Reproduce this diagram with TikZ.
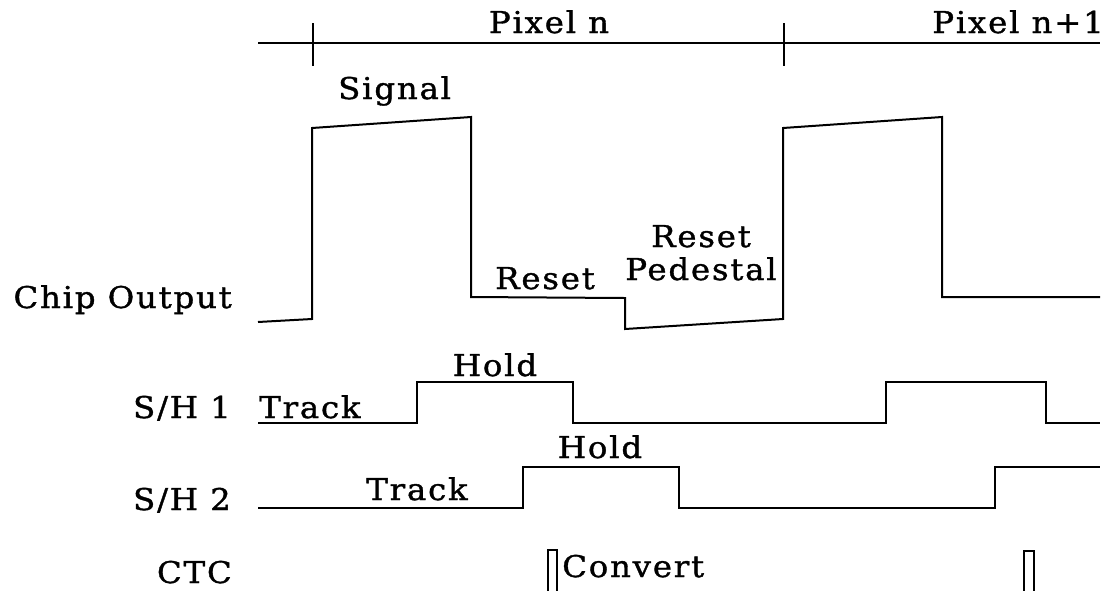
\documentclass[tikz,border=0pt]{standalone}
\usepackage{fontspec}
\setmainfont{DejaVu Serif}[LetterSpace=6,FakeStretch=1.08,FakeBold=1.2]
\begin{document}
\begin{tikzpicture}[x=1pt,y=-1pt,
  wave/.style={line width=2pt, line join=miter},
  lbl/.style={inner sep=0pt, font=\fontsize{30}{33}\selectfont},
  lblc/.style={lbl, anchor=base},
  lbll/.style={lbl, anchor=base west},
  lblr/.style={lbl, anchor=base east}]
\useasboundingbox (0,0) rectangle (1110,590);
% top timeline
\draw[wave] (258,43) -- (1100,43);
\draw[wave] (313,23) -- (313,66);
\draw[wave] (784,23) -- (784,66);
\node[lblc] (pn) at (549,33) {Pixel n};
\node[lblr] (pn1) at (1104,33) {Pixel n+1};
% chip output
\node[lblr] (chip) at (232,308) {Chip Output};
\draw[wave] (258,322) -- (312,319) -- (312,128) -- (471,117) -- (471,297) -- (625,298)
  -- (625,329) -- (783,319) -- (783,128) -- (942,117) -- (942,297) -- (1100,297);
\node[lbll] (sig) at (338,99) {Signal};
\node[lblc] (rst) at (545,289) {Reset};
\node[lblc, align=center] (ped) at (701,280) {Reset\\Pedestal};
% S/H 1
\node[lblr] (sh1) at (231,418) {S/H 1};
\draw[wave] (258,423) -- (417,423) -- (417,382) -- (573,382) -- (573,423) -- (886,423)
  -- (886,382) -- (1046,382) -- (1046,423) -- (1100,423);
\node[lbll] (tr1) at (259,418) {Track};
\node[lblc] (hd1) at (495,376) {Hold};
% S/H 2
\node[lblr] (sh2) at (231,510) {S/H 2};
\draw[wave] (258,508) -- (523,508) -- (523,467) -- (679,467) -- (679,508) -- (995,508)
  -- (995,467) -- (1100,467);
\node[lblc] (tr2) at (417,500) {Track};
\node[lblc] (hd2) at (600,458) {Hold};
% CTC
\node[lblr] (ctc) at (232,583) {CTC};
\draw[wave] (548,592) -- (548,550) -- (557,550) -- (557,592);
\draw[wave] (1024,592) -- (1024,551) -- (1034,551) -- (1034,592);
\node[lbll] (cv) at (562,577) {Convert};
\end{tikzpicture}
\end{document}
